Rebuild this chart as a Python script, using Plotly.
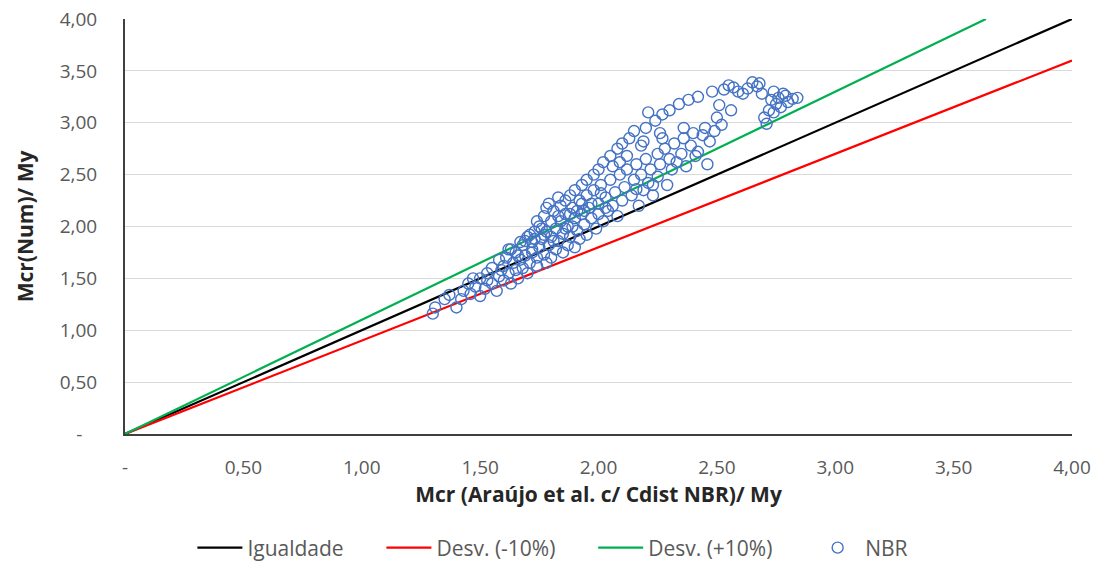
import plotly.graph_objects as go

# NBR scatter data
nbr_x = [1.30,1.31,1.35,1.37,1.40,1.42,1.43,1.45,1.46,1.48,1.50,1.50,1.52,1.53,1.55,1.55,1.57,1.58,1.60,1.60,
         1.61,1.62,1.63,1.64,1.65,1.65,1.66,1.67,1.68,1.68,1.69,1.70,1.70,1.71,1.72,1.72,1.73,1.74,1.74,1.75,
         1.75,1.76,1.77,1.77,1.78,1.78,1.79,1.80,1.80,1.80,1.81,1.82,1.82,1.83,1.84,1.84,1.85,1.85,1.86,1.86,
         1.87,1.87,1.88,1.88,1.89,1.90,1.90,1.90,1.91,1.92,1.92,1.93,1.93,1.94,1.95,1.95,1.95,1.96,1.97,1.98,
         1.98,1.99,2.00,2.00,2.00,2.01,2.02,2.02,2.03,2.04,2.05,2.05,2.06,2.07,2.08,2.08,2.09,2.10,2.10,2.11,
         2.12,2.13,2.14,2.15,2.15,2.16,2.17,2.18,2.18,2.19,2.20,2.20,2.21,2.22,2.23,2.24,2.25,2.25,2.26,2.27,
         2.28,2.29,2.30,2.30,2.31,2.32,2.34,2.35,2.36,2.37,2.38,2.39,2.40,2.42,2.42,2.44,2.45,2.47,2.48,2.49,
         2.50,2.51,2.52,2.53,2.55,2.57,2.59,2.61,2.63,2.65,2.67,2.68,2.70,2.71,2.72,2.73,2.74,2.75,2.76,2.77,
         2.79,2.80,2.82,2.84,1.58,1.63,1.67,1.71,1.76,1.79,1.83,1.89,1.94,1.97,2.03,2.06,2.12,2.16,2.23,2.27,
         1.47,1.53,1.59,1.66,1.73,1.81,1.91,2.01,2.09,2.19,2.33,2.41,2.46,2.36,2.26,2.21,2.56,2.74,2.78,2.69,
         1.62,1.69,1.74,1.78,1.83,1.86,1.72,1.77,1.88,1.93]
nbr_y = [1.16,1.22,1.30,1.34,1.22,1.30,1.38,1.45,1.35,1.42,1.33,1.50,1.40,1.55,1.45,1.60,1.38,1.52,1.48,1.62,
         1.70,1.55,1.45,1.65,1.75,1.58,1.50,1.68,1.82,1.60,1.72,1.55,1.90,1.65,1.78,1.85,1.95,1.70,1.62,2.00,
         1.80,1.88,1.73,2.10,1.95,1.65,1.82,2.05,1.90,1.70,2.15,1.78,1.98,1.86,2.20,2.05,1.75,1.93,2.25,2.12,
         1.82,2.00,2.30,1.90,2.18,2.08,1.80,2.35,1.96,2.25,1.88,2.40,2.12,2.02,2.45,2.30,1.92,2.18,2.08,2.50,
         2.35,1.98,2.55,2.22,2.12,2.40,2.05,2.62,2.28,2.15,2.68,2.45,2.20,2.33,2.75,2.10,2.50,2.25,2.80,2.38,
         2.55,2.85,2.30,2.45,2.92,2.60,2.20,2.50,2.78,2.35,2.95,2.65,2.42,2.55,2.30,3.02,2.70,2.48,2.60,3.08,
         2.75,2.40,2.65,3.12,2.55,2.80,3.18,2.70,2.85,2.58,3.22,2.78,2.90,3.25,2.72,2.88,2.95,2.82,3.30,2.92,
         3.05,3.17,2.98,3.32,3.36,3.34,3.30,3.28,3.33,3.39,3.35,3.38,3.05,2.99,3.12,3.22,3.30,3.18,3.24,3.15,
         3.26,3.20,3.23,3.24,1.68,1.78,1.85,1.92,1.98,2.22,2.28,2.00,2.15,2.22,2.18,2.58,2.68,2.36,2.40,2.85,
         1.50,1.48,1.58,1.72,1.88,1.86,2.15,2.32,2.62,2.82,2.62,2.68,2.60,2.95,2.90,3.10,3.12,3.10,3.28,3.28,
         1.78,1.86,2.05,2.18,2.10,1.98,1.75,1.92,2.12,2.22]

line_x = [0.0, 4.0]
igualdade_y = [0.0, 4.0]
desv_menos_x = [0.0, 4.0]
desv_menos_y = [0.0, 3.6]
desv_mais_x = [0.0, 4.0 / 1.1]
desv_mais_y = [0.0, 4.0]

tick_vals = [0, 0.5, 1.0, 1.5, 2.0, 2.5, 3.0, 3.5, 4.0]
tick_text = ["-", "0,50", "1,00", "1,50", "2,00", "2,50", "3,00", "3,50", "4,00"]
ytick_text = ["-\u00a0\u00a0\u00a0", "0,50", "1,00", "1,50", "2,00", "2,50", "3,00", "3,50", "4,00"]

pad = "\u00a0" * 6

fig = go.Figure()
fig.add_trace(go.Scatter(x=line_x, y=igualdade_y, mode="lines", name="Igualdade" + pad,
                         line=dict(color="#000000", width=2.2)))
fig.add_trace(go.Scatter(x=desv_menos_x, y=desv_menos_y, mode="lines", name="Desv. (-10%)" + pad,
                         line=dict(color="#FF0000", width=2.2)))
fig.add_trace(go.Scatter(x=desv_mais_x, y=desv_mais_y, mode="lines", name="Desv. (+10%)" + pad,
                         line=dict(color="#00B050", width=2.2)))
fig.add_trace(go.Scatter(x=nbr_x, y=nbr_y, mode="markers", name="NBR",
                         marker=dict(symbol="circle-open", size=11, color="#4472C4",
                                     line=dict(width=1.4, color="#4472C4"))))

font_family = "Open Sans, Liberation Sans, sans-serif"
fig.update_layout(
    width=1097, height=573,
    margin=dict(l=125, r=25, t=19, b=139, autoexpand=False),
    paper_bgcolor="white", plot_bgcolor="white",
    font=dict(family=font_family, size=19, color="#595959"),
    showlegend=True,
    legend=dict(orientation="h", x=0.504, xanchor="center", xref="container",
                y=0.0436, yref="container", yanchor="middle",
                font=dict(size=21, color="#595959"), itemwidth=45,
                traceorder="normal"),
    xaxis=dict(range=[0, 4], tickvals=tick_vals, ticktext=tick_text,
               showgrid=False, zeroline=False, showline=True, linecolor="#404040",
               linewidth=2, ticks="", ticklabelstandoff=15, automargin=False,
               ticklabeloverflow="allow",
               title=dict(text="<b>Mcr (Araújo et al. c/ Cdist NBR)/ My</b>",
                          font=dict(size=21, color="#262626"), standoff=8)),
    yaxis=dict(range=[0, 4], tickvals=tick_vals, ticktext=ytick_text,
               showgrid=True, gridcolor="#D9D9D9", gridwidth=1.2, zeroline=False,
               showline=True, linecolor="#404040", linewidth=2, ticks="",
               ticklabelstandoff=22, automargin=False,
               ticklabeloverflow="allow",
               title=dict(text="<b>Mcr(Num)/ My</b>",
                          font=dict(size=21, color="#262626"), standoff=20)),
)

fig.write_html("out.html", config={"displayModeBar": False},
               post_script="document.body.style.margin='0';")
